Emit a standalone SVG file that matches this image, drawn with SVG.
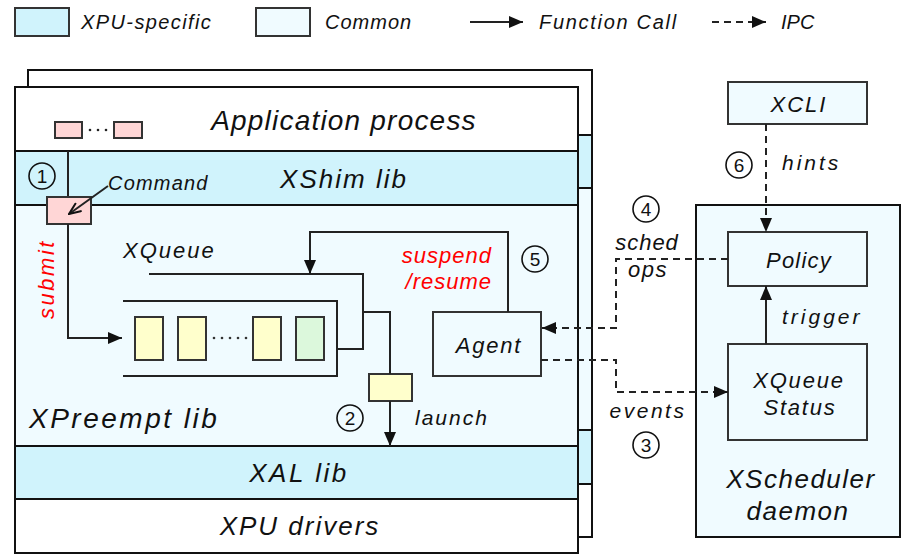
<svg xmlns="http://www.w3.org/2000/svg" width="917" height="559" viewBox="0 0 917 559">
<defs>
<style>
.t{font-family:"Liberation Sans","DejaVu Sans",sans-serif;font-style:italic;fill:#111}
.red{fill:#ff0000}
.band{stroke:#111;stroke-width:2}
.xs{fill:#d0f3fc}
.cm{fill:#f0fbff}
.wh{fill:#ffffff}
.box{stroke:#333;stroke-width:2}
.ln{fill:none;stroke:#222;stroke-width:2}
.dash{fill:none;stroke:#222;stroke-width:2;stroke-dasharray:7,5}
.circ{fill:none;stroke:#111;stroke-width:1.6}
.num{font-family:"Liberation Sans","DejaVu Sans",sans-serif;font-size:19px;fill:#111;text-anchor:middle}
.pink{fill:#ffd6d6}
.yel{fill:#ffffcc}
.grn{fill:#dcf8dc}
</style>
<marker id="ah" viewBox="0 0 14 12" refX="14" refY="6" markerWidth="14" markerHeight="12" markerUnits="userSpaceOnUse" orient="auto"><path d="M0,0 L14,6 L0,12 z" fill="#111"/></marker>
<marker id="open" viewBox="0 0 14 12" refX="13" refY="6" markerWidth="14" markerHeight="12" markerUnits="userSpaceOnUse" orient="auto"><path d="M1,1 L13,6 L1,11" fill="none" stroke="#111" stroke-width="2"/></marker>
</defs>
<rect width="917" height="559" fill="#ffffff"/>

<g id="legend">
<rect x="15" y="8" width="54" height="28" class="xs box"/>
<text x="81" y="29" class="t" font-size="20" letter-spacing="1.4">XPU-specific</text>
<rect x="256" y="8" width="54" height="28" class="cm box"/>
<text x="325" y="29" class="t" font-size="20" letter-spacing="1">Common</text>
<line x1="470" y1="22" x2="523" y2="22" class="ln" marker-end="url(#ah)"/>
<text x="539" y="29" class="t" font-size="20" letter-spacing="1.7">Function Call</text>
<line x1="712" y1="22" x2="766" y2="22" class="dash" marker-end="url(#ah)"/>
<text x="781" y="29" class="t" font-size="20">IPC</text>
</g>

<g id="back-process">
<rect x="28" y="70" width="564" height="65" class="wh band"/>
<rect x="28" y="135" width="564" height="53" class="xs band"/>
<rect x="28" y="188" width="564" height="242" class="cm band"/>
<rect x="28" y="430" width="564" height="54" class="xs band"/>
<rect x="28" y="484" width="564" height="53" class="wh band"/>
</g>

<g id="app-process">
<rect x="15" y="87" width="563" height="64" class="wh band"/>
<text x="344" y="130" class="t" font-size="28" text-anchor="middle" letter-spacing="1.2">Application process</text>
<rect x="55" y="122" width="27" height="16" class="pink box" stroke-width="1.6"/>
<rect x="114" y="122" width="28" height="16" class="pink box" stroke-width="1.6"/>
<g fill="#222"><circle cx="90" cy="130" r="1.3"/><circle cx="98" cy="130" r="1.3"/><circle cx="106" cy="130" r="1.3"/></g>
</g>

<g id="xshim">
<rect x="15" y="151" width="563" height="54" class="xs band"/>
<line x1="68" y1="151" x2="68" y2="197" class="ln"/>
<text x="344" y="188" class="t" font-size="26" text-anchor="middle" letter-spacing="2">XShim lib</text>
<circle cx="42" cy="176" r="13" class="circ"/>
<text x="42" y="183" class="num">1</text>
</g>

<g id="xpreempt">
<rect x="15" y="205" width="563" height="241" class="cm band"/>
<text x="29" y="428" class="t" font-size="28" letter-spacing="2.5">XPreempt lib</text>
<circle cx="350" cy="418" r="13" class="circ"/>
<text x="350" y="425" class="num">2</text>
</g>

<g id="xal">
<rect x="15" y="446" width="563" height="53" class="xs band"/>
<text x="299" y="482" class="t" font-size="26" text-anchor="middle" letter-spacing="2.5">XAL lib</text>
</g>

<g id="drivers">
<rect x="15" y="499" width="563" height="54" class="wh band"/>
<text x="300" y="535" class="t" font-size="26" text-anchor="middle" letter-spacing="2">XPU drivers</text>
</g>

<g id="command">
<rect x="47" y="197" width="44" height="27" class="pink box"/>
<text x="108" y="190" class="t" font-size="20" letter-spacing="1.2">Command</text>
</g>

<g id="xqueue">
<text x="123" y="258" class="t" font-size="22" letter-spacing="2">XQueue</text>
<polyline points="149,274 363,274 363,349 337,349" class="ln"/>
<polyline points="123,301 337,301 337,376 123,376" class="ln"/>
<rect x="135" y="317" width="28" height="43" class="yel box"/>
<rect x="178" y="317" width="28" height="43" class="yel box"/>
<g fill="#333"><circle cx="214" cy="338" r="1.3"/><circle cx="222" cy="338" r="1.3"/><circle cx="230" cy="338" r="1.3"/><circle cx="238" cy="338" r="1.3"/><circle cx="246" cy="338" r="1.3"/></g>
<rect x="253" y="317" width="28" height="43" class="yel box"/>
<rect x="296" y="317" width="28" height="43" class="grn box"/>
</g>

<g id="launch-cmd">
<rect x="369" y="374" width="43" height="27" class="yel box"/>
</g>

<g id="agent">
<rect x="433" y="312" width="108" height="64" class="cm box"/>
<text x="489" y="353" class="t" font-size="22" text-anchor="middle" letter-spacing="1.8">Agent</text>
</g>

<g id="xcli">
<rect x="728" y="82" width="139" height="42" class="cm box"/>
<text x="799" y="112" class="t" font-size="22" text-anchor="middle" letter-spacing="2">XCLI</text>
</g>

<g id="xscheduler">
<rect x="696" y="205" width="204" height="332" class="cm band"/>
<text x="801" y="488" class="t" font-size="26" text-anchor="middle" letter-spacing="1.5">XScheduler</text>
<text x="798" y="520" class="t" font-size="26" text-anchor="middle" letter-spacing="1.5">daemon</text>
</g>

<g id="policy">
<rect x="728" y="232" width="139" height="54" class="cm box"/>
<text x="799" y="268" class="t" font-size="22" text-anchor="middle" letter-spacing="1.2">Policy</text>
</g>

<g id="xqueue-status">
<rect x="728" y="344" width="139" height="96" class="cm box"/>
<text x="799" y="388" class="t" font-size="22" text-anchor="middle" letter-spacing="1.8">XQueue</text>
<text x="800" y="415" class="t" font-size="22" text-anchor="middle" letter-spacing="1.8">Status</text>
</g>

<g id="connectors">
<polyline points="68,224 68,338 122,338" class="ln" marker-end="url(#ah)"/>
<text transform="translate(54,279) rotate(-90)" class="t red" font-size="22" text-anchor="middle" letter-spacing="2.5">submit</text>
<line x1="108" y1="186" x2="69" y2="214" class="ln" stroke-width="1.8" marker-end="url(#open)"/>
<polyline points="508,312 508,232 310,232 310,274" class="ln" marker-end="url(#ah)"/>
<text x="492" y="263" class="t red" font-size="22" text-anchor="end" letter-spacing="1">suspend</text>
<text x="492" y="289" class="t red" font-size="22" text-anchor="end" letter-spacing="1">/resume</text>
<circle cx="535" cy="259" r="13" class="circ"/>
<text x="535" y="266" class="num">5</text>
<polyline points="363,312 390,312 390,374" class="ln"/>
<line x1="390" y1="401" x2="390" y2="446" class="ln" marker-end="url(#ah)"/>
<text x="415" y="425" class="t" font-size="21" letter-spacing="2">launch</text>
<polyline points="728,259 616,259 616,328 542,328" class="dash" marker-end="url(#ah)"/>
<circle cx="646" cy="209" r="13" class="circ"/>
<text x="646" y="216" class="num">4</text>
<text x="647" y="250" class="t" font-size="22" text-anchor="middle" letter-spacing="1">sched</text>
<text x="648" y="277" class="t" font-size="22" text-anchor="middle" letter-spacing="1.5">ops</text>
<polyline points="541,360 616,360 616,392 728,392" class="dash" marker-end="url(#ah)"/>
<text x="648" y="418" class="t" font-size="21" text-anchor="middle" letter-spacing="2.5">events</text>
<circle cx="646" cy="445" r="13" class="circ"/>
<text x="646" y="452" class="num">3</text>
<line x1="766" y1="124" x2="766" y2="232" class="dash" marker-end="url(#ah)"/>
<circle cx="739" cy="165" r="13" class="circ"/>
<text x="739" y="172" class="num">6</text>
<text x="782" y="170" class="t" font-size="21" letter-spacing="3">hints</text>
<line x1="766" y1="344" x2="766" y2="286" class="ln" marker-end="url(#ah)"/>
<text x="782" y="324" class="t" font-size="21" letter-spacing="3">trigger</text>
</g>
</svg>
